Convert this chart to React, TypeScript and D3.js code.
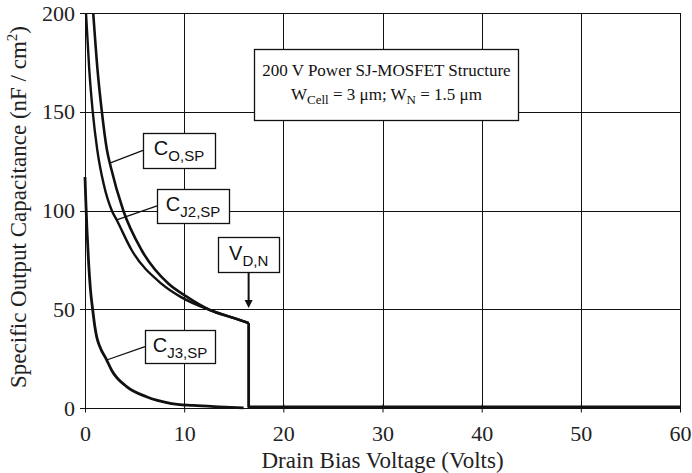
import * as d3 from 'd3';
import React, { useRef, useEffect } from 'react';

// axis ticks
const xTicks = [0, 10, 20, 30, 40, 50, 60];
const yTicks = [0, 50, 100, 150, 200];

// C_O,SP (outer curve)
const coVolts = [0.83, 1.25, 1.7, 2.2, 2.6, 3.86, 5.7, 8.4, 10.25, 12.6, 15.1, 16.5];
const coCap = [200, 172, 150, 131, 122, 100, 80, 63, 56.4, 49.6, 45.4, 43];

// C_J2,SP (inner curve)
const cj2Volts = [0.1, 0.42, 0.78, 1.24, 1.9, 2.7, 3.2, 4.7, 7.7, 9.6, 12.6, 15.1, 16.5];
const cj2Cap = [200, 172, 150, 130.6, 113, 100, 95.2, 80, 63, 56.4, 49.6, 45.4, 43];

// C_J3,SP
const cj3Volts = [0, 0.08, 0.2, 0.35, 0.55, 0.78, 1.0, 1.18, 1.5, 2.19, 2.7, 4.2, 6.2, 8.6, 10.9, 13.5, 16.0];
const cj3Cap = [117, 105, 90, 75, 60, 49.6, 41, 36, 31, 24.3, 19, 10.8, 5.7, 2.4, 1.3, 0.6, 0.1];

// drop at V_D,N and the flat tail
const tailVolts = [16.5, 16.5, 60];
const tailCap = [43, 0.6, 0.6];

export default function App() {
    const ref = useRef<SVGSVGElement | null>(null);
    const width = 692;
    const height = 473;

    useEffect(() => {
        document.body.style.margin = '0';
        const svg = d3.select(ref.current);
        svg.selectAll('*').remove();

        const m = { top: 13, right: 12, bottom: 65, left: 85 };
        const x = d3.scaleLinear().domain([0, 60]).range([m.left, width - m.right]);
        const y = d3.scaleLinear().domain([0, 200]).range([height - m.bottom, m.top]);
        const serif = '"Liberation Serif", "Times New Roman", serif';
        const sans = '"Liberation Sans", Arial, sans-serif';

        svg.append('rect').attr('width', width).attr('height', height).attr('fill', '#fff');

        // grid
        const grid = svg.append('g').attr('stroke', '#111').attr('stroke-width', 1);
        grid.selectAll('line.v')
            .data(xTicks)
            .join('line')
            .attr('x1', (d) => Math.round(x(d)) + 0.5)
            .attr('x2', (d) => Math.round(x(d)) + 0.5)
            .attr('y1', y(0))
            .attr('y2', y(200));
        grid.selectAll('line.h')
            .data(yTicks)
            .join('line')
            .attr('class', 'h')
            .attr('x1', x(0) - 5)
            .attr('x2', x(60))
            .attr('y1', (d) => Math.round(y(d)) + 0.5)
            .attr('y2', (d) => Math.round(y(d)) + 0.5);

        // x ticks
        svg.append('g')
            .attr('transform', `translate(0, ${Math.round(y(0)) + 0.5})`)
            .call(d3.axisBottom(x).tickValues(xTicks).tickSize(4).tickSizeOuter(0))
            .call((g) => g.select('.domain').remove())
            .call((g) => g.selectAll('line').attr('stroke', '#111').attr('y1', -4))
            .call((g) =>
                g.selectAll('text')
                    .attr('font-family', serif)
                    .attr('font-size', 22)
                    .attr('fill', '#222')
                    .attr('dy', 0)
                    .attr('y', 32)
            );

        // y tick labels
        svg.append('g')
            .selectAll('text')
            .data(yTicks)
            .join('text')
            .attr('x', x(0) - 10)
            .attr('y', (d) => y(d))
            .attr('dy', '0.35em')
            .attr('text-anchor', 'end')
            .attr('font-family', serif)
            .attr('font-size', 22)
            .attr('fill', '#222')
            .text((d) => d);

        // axis titles
        svg.append('text')
            .attr('x', (x(0) + x(60)) / 2)
            .attr('y', 468)
            .attr('text-anchor', 'middle')
            .attr('font-family', serif)
            .attr('font-size', 23)
            .attr('fill', '#222')
            .text('Drain Bias Voltage (Volts)');

        const yt = svg.append('text')
            .attr('transform', `translate(26, 207) rotate(-90)`)
            .attr('text-anchor', 'middle')
            .attr('font-family', serif)
            .attr('font-size', 23)
            .attr('fill', '#222');
        yt.append('tspan').text('Specific Output Capacitance (nF / cm');
        yt.append('tspan').attr('font-size', 15).attr('dy', -9).text('2');
        yt.append('tspan').attr('dy', 9).text(')');

        // curves
        const smooth = d3.line<[number, number]>()
            .x((d) => x(d[0]))
            .y((d) => y(d[1]))
            .curve(d3.curveMonotoneX);
        const straight = d3.line<[number, number]>()
            .x((d) => x(d[0]))
            .y((d) => y(d[1]));
        const zip = (a: number[], b: number[]) => a.map((v, i) => [v, b[i]] as [number, number]);

        const curves = svg.append('g').attr('fill', 'none').attr('stroke', '#111').attr('stroke-linejoin', 'round');
        curves.append('path').attr('d', smooth(zip(cj2Volts, cj2Cap))).attr('stroke-width', 2.4);
        curves.append('path').attr('d', smooth(zip(coVolts, coCap))).attr('stroke-width', 2.6);
        curves.append('path').attr('d', smooth(zip(cj3Volts, cj3Cap))).attr('stroke-width', 2.8);
        curves.append('path').attr('d', straight(zip(tailVolts, tailCap))).attr('stroke-width', 2.8);

        // right border on top of tail
        svg.append('line')
            .attr('x1', Math.round(x(60)) + 0.5)
            .attr('x2', Math.round(x(60)) + 0.5)
            .attr('y1', y(0) + 3)
            .attr('y2', y(200))
            .attr('stroke', '#111');

        // labelled boxes
        const labels = [
            { main: 'C', sub: 'O,SP', cx: 9.48, cy: 130.4, w: 72, h: 35, tx: 2.5, ty: 124 },
            { main: 'C', sub: 'J2,SP', cx: 10.9, cy: 102.3, w: 72, h: 34, tx: 3.2, ty: 95.2 },
            { main: 'C', sub: 'J3,SP', cx: 9.58, cy: 31.1, w: 70, h: 33, tx: 2.19, ty: 24.3 },
            { main: 'V', sub: 'D,N', cx: 16.5, cy: 77.7, w: 61, h: 35, tx: 0, ty: 0 },
        ];
        labels.forEach((l) => {
            const cx = x(l.cx);
            const cy = y(l.cy);
            if (l.main === 'C') {
                svg.append('line')
                    .attr('x1', cx - l.w / 2)
                    .attr('y1', cy)
                    .attr('x2', x(l.tx))
                    .attr('y2', y(l.ty))
                    .attr('stroke', '#111')
                    .attr('stroke-width', 1.3);
            }
            svg.append('rect')
                .attr('x', Math.round(cx - l.w / 2) + 0.5)
                .attr('y', Math.round(cy - l.h / 2) + 0.5)
                .attr('width', l.w)
                .attr('height', l.h)
                .attr('fill', '#fff')
                .attr('stroke', '#111')
                .attr('stroke-width', 1.3);
            const t = svg.append('text')
                .attr('x', cx)
                .attr('y', cy + 5)
                .attr('text-anchor', 'middle')
                .attr('font-family', sans)
                .attr('fill', '#111');
            t.append('tspan').attr('font-size', 20).text(l.main);
            t.append('tspan').attr('font-size', 15).attr('dy', 6).text(l.sub);
        });

        // arrow to V_D,N
        const ax = x(16.5);
        svg.append('line')
            .attr('x1', ax)
            .attr('x2', ax)
            .attr('y1', y(77.7) + 17.5)
            .attr('y2', y(50.6) - 6)
            .attr('stroke', '#111')
            .attr('stroke-width', 2);
        svg.append('path')
            .attr('d', `M${ax - 4},${y(50.6) - 8} L${ax + 4},${y(50.6) - 8} L${ax},${y(50.6)} Z`)
            .attr('fill', '#111');

        // structure note
        const nx = x(30.4);
        const ny = y(163.8);
        svg.append('rect')
            .attr('x', Math.round(nx - 132) + 0.5)
            .attr('y', Math.round(ny - 35.5) + 0.5)
            .attr('width', 264)
            .attr('height', 71)
            .attr('fill', '#fff')
            .attr('stroke', '#111')
            .attr('stroke-width', 1.3);
        svg.append('text')
            .attr('x', nx)
            .attr('y', ny - 8)
            .attr('text-anchor', 'middle')
            .attr('font-family', serif)
            .attr('font-size', 17)
            .attr('fill', '#111')
            .text('200 V Power SJ-MOSFET Structure');
        const n2 = svg.append('text')
            .attr('x', nx)
            .attr('y', ny + 16)
            .attr('text-anchor', 'middle')
            .attr('font-family', serif)
            .attr('font-size', 17)
            .attr('fill', '#111');
        n2.append('tspan').text('W');
        n2.append('tspan').attr('font-size', 13).attr('dy', 4).text('Cell');
        n2.append('tspan').attr('dy', -4).text(' = 3 μm; W');
        n2.append('tspan').attr('font-size', 13).attr('dy', 4).text('N');
        n2.append('tspan').attr('dy', -4).text(' = 1.5 μm');
    }, []);

    return <svg ref={ref} width={width} height={height} style={{ display: 'block' }} />;
}
